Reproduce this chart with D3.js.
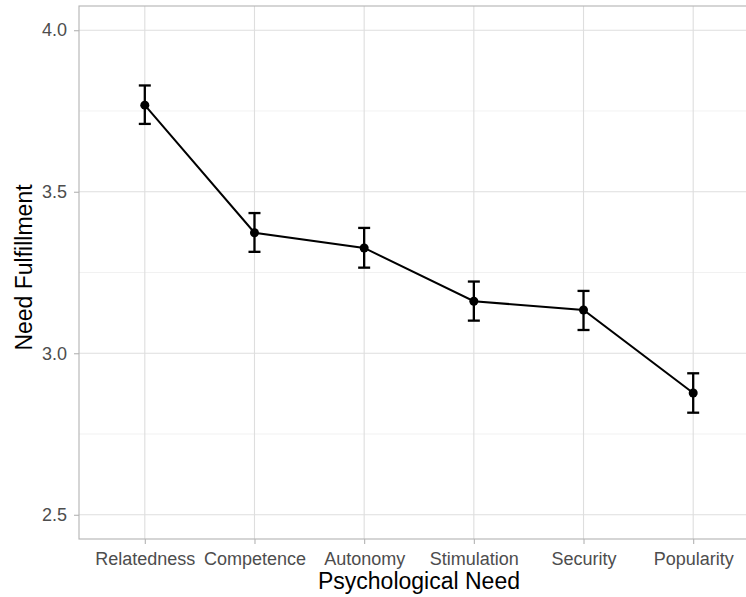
<!DOCTYPE html>
<html>
<head>
<meta charset="utf-8">
<script src="https://cdn.jsdelivr.net/npm/d3@7"></script>
<style>
  body { margin: 0; background: #fff; }
  text { font-family: "Liberation Sans", Arial, Helvetica, sans-serif; }
</style>
</head>
<body>
<div id="vis"></div>
<script>
var needs = ["Relatedness", "Competence", "Autonomy", "Stimulation", "Security", "Popularity"];
var means = [3.768, 3.373, 3.326, 3.161, 3.134, 2.877];
var lower = [3.710, 3.314, 3.265, 3.101, 3.072, 2.816];
var upper = [3.829, 3.434, 3.388, 3.222, 3.193, 2.938];
var yTicks = [2.5, 3.0, 3.5, 4.0];
var yMinor = [2.75, 3.25, 3.75];

var data = needs.map(function (d, i) {
    return { need: d, mean: means[i], lo: lower[i], hi: upper[i] };
});

// panel runs past the right edge of the picture, as in the original
var margin = { top: 6, left: 79 };
var width = 680, height = 533;

var svg = d3.select("#vis")
    .append("svg")
    .attr("width", 746)
    .attr("height", 597)
    .append("g")
    .attr("transform", "translate(" + margin.left + "," + margin.top + ")");

var x = d3.scalePoint().domain(needs).range([0, width]).padding(0.6);
var y = d3.scaleLinear().domain([2.425, 4.075]).range([height, 0]);

// grid
svg.selectAll(".minor")
    .data(yMinor)
    .enter().append("line")
    .attr("class", "minor")
    .attr("x1", 0).attr("x2", width)
    .attr("y1", d => y(d)).attr("y2", d => y(d))
    .attr("stroke", "#ebebeb")
    .attr("stroke-width", 0.7);

svg.selectAll(".major")
    .data(yTicks)
    .enter().append("line")
    .attr("class", "major")
    .attr("x1", 0).attr("x2", width)
    .attr("y1", d => y(d)).attr("y2", d => y(d))
    .attr("stroke", "#dedede")
    .attr("stroke-width", 1.1);

svg.selectAll(".vgrid")
    .data(needs)
    .enter().append("line")
    .attr("class", "vgrid")
    .attr("x1", d => x(d)).attr("x2", d => x(d))
    .attr("y1", 0).attr("y2", height)
    .attr("stroke", "#dedede")
    .attr("stroke-width", 1.1);

// panel border
svg.append("rect")
    .attr("x", 0).attr("y", 0)
    .attr("width", width).attr("height", height)
    .attr("fill", "none")
    .attr("stroke", "#b3b3b3")
    .attr("stroke-width", 1.1);

// axes
var yAxis = d3.axisLeft(y).tickValues(yTicks).tickFormat(d3.format(".1f")).tickSize(5).tickPadding(7);
var xAxis = d3.axisBottom(x).tickSize(5).tickPadding(4);

var gy = svg.append("g").attr("class", "y axis").call(yAxis);
var gx = svg.append("g").attr("class", "x axis")
    .attr("transform", "translate(0," + height + ")")
    .call(xAxis);

[gy, gx].forEach(function (g) {
    g.select(".domain").remove();
    g.selectAll(".tick line").attr("stroke", "#b3b3b3").attr("stroke-width", 1.1);
    g.selectAll(".tick text")
        .attr("fill", "#4d4d4d")
        .style("font-size", "18px");
});
gx.selectAll(".tick text").attr("dy", "0.95em");

// line
var line = d3.line()
    .x(d => x(d.need))
    .y(d => y(d.mean));

svg.append("path")
    .datum(data)
    .attr("d", line)
    .attr("fill", "none")
    .attr("stroke", "#000")
    .attr("stroke-width", 2);

// error bars
var eb = svg.selectAll(".errbar")
    .data(data)
    .enter().append("g")
    .attr("class", "errbar")
    .attr("stroke", "#000")
    .attr("stroke-width", 2.3);

eb.append("line")
    .attr("x1", d => x(d.need)).attr("x2", d => x(d.need))
    .attr("y1", d => y(d.lo)).attr("y2", d => y(d.hi));
eb.append("line")
    .attr("x1", d => x(d.need) - 6).attr("x2", d => x(d.need) + 6)
    .attr("y1", d => y(d.lo)).attr("y2", d => y(d.lo));
eb.append("line")
    .attr("x1", d => x(d.need) - 6).attr("x2", d => x(d.need) + 6)
    .attr("y1", d => y(d.hi)).attr("y2", d => y(d.hi));

svg.selectAll(".dot")
    .data(data)
    .enter().append("circle")
    .attr("class", "dot")
    .attr("cx", d => x(d.need))
    .attr("cy", d => y(d.mean))
    .attr("r", 4.5)
    .attr("fill", "#000");

// titles
svg.append("text")
    .attr("x", width / 2)
    .attr("y", height + 50)
    .attr("text-anchor", "middle")
    .style("font-size", "23px")
    .attr("fill", "#000")
    .text("Psychological Need");

svg.append("text")
    .attr("transform", "translate(" + (-47) + "," + (height / 2 - 5) + ") rotate(-90)")
    .attr("text-anchor", "middle")
    .style("font-size", "23px")
    .attr("fill", "#000")
    .text("Need Fulfillment");
</script>
</body>
</html>
